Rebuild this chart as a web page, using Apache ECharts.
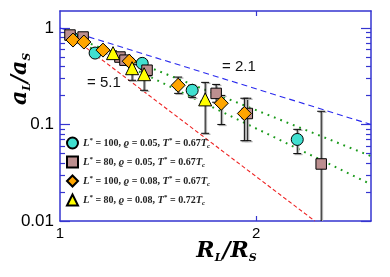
<!DOCTYPE html>
<html><head><meta charset="utf-8">
<script src="https://cdn.jsdelivr.net/npm/echarts@6/dist/echarts.min.js"></script>
<style>html,body{margin:0;padding:0;background:#fff}#c{width:390px;height:277px}</style>
</head><body><div id="c"></div>
<script>
// ---- tick data ----
const xTickValues = [1, 2];
const xTickLabels = ['1', '2'];
const yTickValues = [0.01, 0.1, 1];
const yTickLabels = ['0.01', '0.1', '1'];
const yMinorTicks = [0.02,0.03,0.04,0.05,0.06,0.07,0.08,0.09,0.2,0.3,0.4,0.5,0.6,0.7,0.8,0.9];

// ---- series data ----
const seriesNames = ['L*=100, rho=0.05, T*=0.67Tc', 'L*=80, rho=0.05, T*=0.67Tc', 'L*=100, rho=0.08, T*=0.67Tc', 'L*=80, rho=0.08, T*=0.72Tc'];
const legendL = ['100', '80', '100', '80'];
const legendRho = ['0.05', '0.05', '0.08', '0.08'];
const legendT = ['0.67', '0.67', '0.67', '0.72'];

const tealX  = [1.043, 1.132, 1.337, 1.595, 2.312];
const tealY  = [0.80, 0.55, 0.43, 0.226, 0.070];
const tealLo = [0.76, 0.51, 0.40, 0.191, 0.050];
const tealHi = [0.84, 0.59, 0.46, 0.255, 0.089];

const brownX  = [1.036, 1.085, 1.236, 1.258, 1.360, 1.736, 1.938, 2.516];
const brownY  = [0.845, 0.806, 0.50, 0.464, 0.365, 0.21, 0.13, 0.039];
const brownLo = [0.78, 0.75, 0.46, 0.42, 0.32, 0.17, 0.068, 0.005];
const brownHi = [0.90, 0.87, 0.54, 0.50, 0.40, 0.26, 0.187, 0.137];

const orangeX  = [1.047, 1.088, 1.164, 1.277, 1.518, 1.768, 1.918];
const orangeY  = [0.75, 0.715, 0.59, 0.453, 0.255, 0.166, 0.13];
const orangeLo = [0.71, 0.68, 0.55, 0.42, 0.21, 0.10, 0.068];
const orangeHi = [0.79, 0.75, 0.63, 0.49, 0.31, 0.20, 0.187];

const yellowX  = [1.206, 1.290, 1.346, 1.670];
const yellowY  = [0.549, 0.383, 0.332, 0.182];
const yellowLo = [0.52, 0.287, 0.226, 0.081];
const yellowHi = [0.58, 0.42, 0.37, 0.273];

// power-law guide lines (endpoints)
const fitBlueX = [1.0, 3.0];   const fitBlueY = [1.0, 0.100];
const fitRedX = [1.02, 2.46];  const fitRedY = [0.904, 0.01];
const fitGreen1X = [1.02, 3.0]; const fitGreen1Y = [0.87, 0.047];
const fitGreen2X = [1.02, 3.0]; const fitGreen2Y = [0.83, 0.024];

const AX = '#3535d0';
const pairs = (xs, ys) => xs.map((x, i) => [x, ys[i]]);
const nearest = (v, vals, labs) => { const i = vals.findIndex(t => Math.abs(t - v) / t < 1e-6); return i >= 0 ? labs[i] : ''; };

function errSeries(xs, lo, hi) {
  return {
    type: 'custom', clip: true, silent: true, z: 2,
    data: xs.map((x, i) => [x, lo[i], hi[i]]),
    encode: { x: 0, y: [1, 2] },
    renderItem: (params, api) => {
      const x = api.value(0);
      const p1 = api.coord([x, api.value(1)]);
      const p2 = api.coord([x, api.value(2)]);
      const c = 4;
      const mk = (dx, dy, col, w) => [
        { type: 'line', shape: { x1: p1[0] + dx, y1: p1[1] + dy, x2: p2[0] + dx, y2: p2[1] + dy }, style: { stroke: col, lineWidth: w } },
        { type: 'line', shape: { x1: p1[0] - c + dx, y1: p1[1] + dy, x2: p1[0] + c + dx, y2: p1[1] + dy }, style: { stroke: col, lineWidth: w } },
        { type: 'line', shape: { x1: p2[0] - c + dx, y1: p2[1] + dy, x2: p2[0] + c + dx, y2: p2[1] + dy }, style: { stroke: col, lineWidth: w } }
      ];
      return { type: 'group', children: mk(1.3, 1, '#b0b0b0', 1.3).concat(mk(0, 0, '#111', 1.1)) };
    }
  };
}
function scat(name, xs, ys, symbol, size, color) {
  return {
    name, type: 'scatter', symbol, symbolSize: size, data: pairs(xs, ys), z: 3,
    itemStyle: { color, borderColor: '#000', borderWidth: 1, opacity: 1 }
  };
}
function guide(xs, ys, color, type, width) {
  return {
    type: 'line', data: pairs(xs, ys), symbol: 'none', silent: true, z: 1,
    lineStyle: { color, type, width, cap: 'butt' }
  };
}

const logY = (extra) => Object.assign({
  type: 'log', min: 0.01, max: 1.5, gridIndex: 0,
  splitLine: { show: false }, minorTick: { show: false },
  axisLabel: { show: false }, axisTick: { show: false }, axisLine: { show: false }
}, extra);

const titleRich = {
  i: { fontFamily: 'DejaVu Serif', fontStyle: 'italic', fontWeight: 'bold', fontSize: 22, fill: '#000', color: '#000', lineHeight: 26, verticalAlign: 'top' },
  s: { fontFamily: 'DejaVu Serif', fontStyle: 'italic', fontWeight: 'bold', fontSize: 11, fill: '#000', color: '#000', lineHeight: 26, verticalAlign: 'top', padding: [13, 0, 0, 0] }
};

const chart = echarts.init(document.getElementById('c'), null, { renderer: 'canvas' });
chart.setOption({
  animation: false,
  backgroundColor: '#fff',
  grid: { left: 60, right: 19, top: 11, bottom: 56, containLabel: false, outerBoundsMode: 'none' },
  xAxis: [
    {
      type: 'log', min: 1, max: 3, position: 'bottom',
      splitLine: { show: false }, minorTick: { show: false },
      axisLine: { show: true, lineStyle: { color: AX, width: 1.5 } },
      axisTick: { show: true, inside: true, length: 5, customValues: [2], lineStyle: { color: AX, width: 1.2 } },
      axisLabel: { show: true, customValues: xTickValues, color: '#000', fontSize: 15, fontFamily: 'Liberation Sans', margin: 5,
        formatter: v => nearest(v, xTickValues, xTickLabels) },
      name: '{i|R}{s|L}{i|/R}{s|S}', nameLocation: 'middle', nameGap: 19, nameMoveOverlap: false,
      nameTextStyle: { padding: [0, 0, 0, 22], rich: titleRich }
    },
    {
      type: 'log', min: 1, max: 3, position: 'top',
      splitLine: { show: false }, minorTick: { show: false },
      axisLine: { show: true, lineStyle: { color: AX, width: 1.5 } },
      axisTick: { show: true, inside: true, length: 5, customValues: [2], lineStyle: { color: AX, width: 1.2 } },
      axisLabel: { show: false }
    }
  ],
  yAxis: [
    logY({
      position: 'left',
      axisLine: { show: true, lineStyle: { color: AX, width: 1.5 } },
      axisTick: { show: true, inside: true, length: 10, customValues: yTickValues, lineStyle: { color: AX, width: 1.2 } },
      axisLabel: { show: true, customValues: yTickValues, color: '#000', fontSize: 17, fontFamily: 'Liberation Sans', margin: 6,
        formatter: v => nearest(v, yTickValues, yTickLabels) }
    }),
    logY({ position: 'left', axisTick: { show: true, inside: true, length: 5, customValues: yMinorTicks, lineStyle: { color: AX, width: 1.2 } } }),
    logY({ position: 'right',
      axisLine: { show: true, lineStyle: { color: AX, width: 1.5 } },
      axisTick: { show: true, inside: true, length: 10, customValues: yTickValues, lineStyle: { color: AX, width: 1.2 } } }),
    logY({ position: 'right', axisTick: { show: true, inside: true, length: 5, customValues: yMinorTicks, lineStyle: { color: AX, width: 1.2 } } })
  ],
  legend: {
    orient: 'vertical', left: 66, top: 136.5, padding: 0, itemWidth: 11, itemHeight: 11, itemGap: 6,
    data: seriesNames,
    formatter: name => {
      const i = seriesNames.indexOf(name);
      return '{i|L}{p|*}{n| = ' + legendL[i] + ', }{i|ϱ}{n| = ' + legendRho[i] + ', }{i|T}{p|*}{n| = ' + legendT[i] + '}{i|T}{b|c}';
    },
    textStyle: { fontSize: 10, color: '#222', rich: {
      i: { fontFamily: 'Liberation Serif', fontStyle: 'italic', fontWeight: 'bold', fontSize: 10.5, color: '#222', lineHeight: 13, verticalAlign: 'middle' },
      n: { fontFamily: 'Liberation Serif', fontWeight: 'bold', fontSize: 10, color: '#222', lineHeight: 13, verticalAlign: 'middle' },
      p: { fontFamily: 'Liberation Serif', fontWeight: 'bold', fontSize: 7, color: '#222', lineHeight: 13, verticalAlign: 'top' },
      b: { fontFamily: 'Liberation Serif', fontStyle: 'italic', fontWeight: 'bold', fontSize: 7, color: '#222', lineHeight: 13, verticalAlign: 'bottom' }
    } }
  },
  graphic: [
    { type: 'text', left: 222, top: 59, style: { text: '= 2.1', font: '15px "Liberation Sans"', fill: '#111' } },
    { type: 'text', left: 87, top: 75, style: { text: '= 5.1', font: '15px "Liberation Sans"', fill: '#111' } },
    { type: 'text', x: 22, y: 79, rotation: Math.PI / 2,
      style: { text: '{i|a}{s|L}{i|/a}{s|S}', rich: titleRich, align: 'center', verticalAlign: 'middle', fill: '#000' } }
  ],
  series: [
    guide(fitBlueX, fitBlueY, '#2a2aee', [6, 4], 1.1),
    guide(fitRedX, fitRedY, '#ee2222', [4, 2.5], 1.1),
    guide(fitGreen1X, fitGreen1Y, '#1a9a1a', [1.8, 5], 2),
    guide(fitGreen2X, fitGreen2Y, '#1a9a1a', [1.8, 5], 2),
    errSeries(tealX, tealLo, tealHi),
    errSeries(brownX, brownLo, brownHi),
    errSeries(orangeX, orangeLo, orangeHi),
    errSeries(yellowX, yellowLo, yellowHi),
    scat(seriesNames[0], tealX, tealY, 'circle', 12, '#40e0d0'),
    scat(seriesNames[1], brownX, brownY, 'rect', 10.5, '#bc8f8f'),
    scat(seriesNames[2], orangeX, orangeY, 'diamond', 14, '#ffa500'),
    scat(seriesNames[3], yellowX, yellowY, 'triangle', 13, '#ffff00')
  ]
});
</script></body></html>
